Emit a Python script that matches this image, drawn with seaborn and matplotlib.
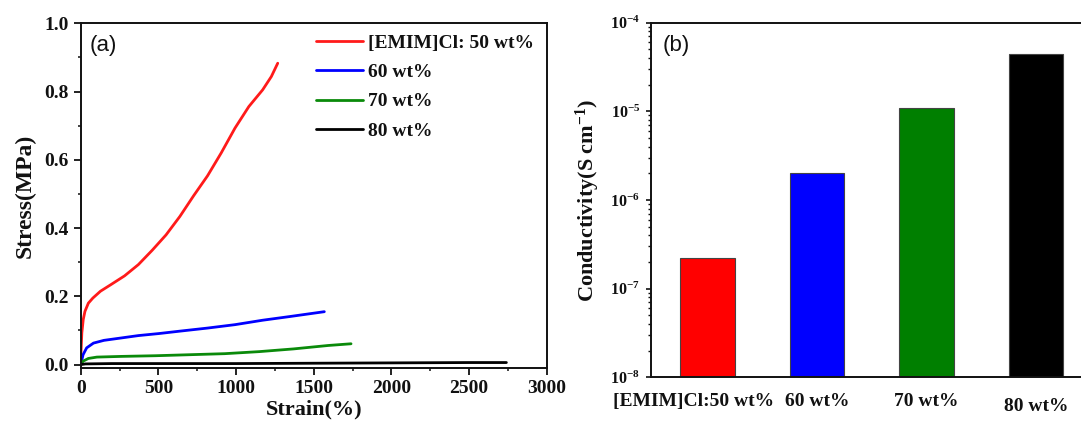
import numpy as np
import pandas as pd
import matplotlib
matplotlib.use("Agg")
import matplotlib.pyplot as plt
from matplotlib.ticker import MultipleLocator, LogLocator, NullFormatter, FixedLocator
from matplotlib.transforms import ScaledTranslation
import seaborn as sns

# ---- (a) stress-strain curves ----
strain_50 = [0, 7, 16, 27, 49, 78, 127, 193, 282, 371, 460, 549, 638, 727, 816, 904, 993, 1082, 1171, 1227, 1268]
stress_50 = [0.02, 0.093, 0.132, 0.156, 0.180, 0.195, 0.215, 0.234, 0.260, 0.293, 0.335, 0.380, 0.434, 0.495, 0.553, 0.620, 0.693, 0.756, 0.805, 0.844, 0.883]

strain_60 = [0, 15, 38, 82, 149, 260, 371, 504, 638, 816, 993, 1171, 1349, 1568]
stress_60 = [0.0, 0.029, 0.049, 0.063, 0.071, 0.078, 0.085, 0.091, 0.098, 0.107, 0.117, 0.130, 0.141, 0.155]

strain_70 = [0, 15, 49, 104, 260, 482, 704, 927, 1149, 1371, 1593, 1740]
stress_70 = [0.0, 0.010, 0.018, 0.022, 0.024, 0.026, 0.029, 0.032, 0.038, 0.046, 0.056, 0.061]

strain_80 = [0, 30, 200, 600, 1000, 1500, 2000, 2500, 2740]
stress_80 = [0.0, 0.002, 0.003, 0.003, 0.003, 0.004, 0.005, 0.006, 0.006]

curve_labels = ["[EMIM]Cl: 50 wt%", "60 wt%", "70 wt%", "80 wt%"]
curve_colors = ["#ff1a1a", "#0000ff", "#0a8a0a", "#000000"]

# ---- (b) ionic conductivity ----
bar_labels = ["[EMIM]Cl:50 wt%", "60 wt%", "70 wt%", "80 wt%"]
conductivity = [2.2e-7, 2.0e-6, 1.08e-5, 4.4e-5]
bar_colors = ["#ff0000", "#0000ff", "#007f00", "#000000"]
log_ticks = [1e-8, 1e-7, 1e-6, 1e-5, 1e-4]
log_tick_labels = ["10$^{-8}$", "10$^{-7}$", "10$^{-6}$", "10$^{-5}$", "10$^{-4}$"]

sns.set_theme(style="ticks")
plt.rcParams.update({
    "font.family": ["Liberation Serif", "DejaVu Serif"],
    "font.weight": "bold",
    "axes.labelweight": "bold",
    "mathtext.fontset": "custom",
    "mathtext.rm": "Liberation Serif:bold",
    "mathtext.it": "Liberation Serif:bold",
    "mathtext.bf": "Liberation Serif:bold",
    "mathtext.default": "rm",
    "axes.linewidth": 1.4,
    "axes.edgecolor": "#111111",
    "xtick.color": "#111111",
    "ytick.color": "#111111",
    "text.color": "#111111",
    "axes.labelcolor": "#111111",
})

fig = plt.figure(figsize=(10.81, 4.25), dpi=100)
ax_a = fig.add_axes([0.0747, 0.1341, 0.4311, 0.8111])
ax_b = fig.add_axes([0.6019, 0.1122, 0.4072, 0.8344])

# panel (a)
series = [(strain_50, stress_50), (strain_60, stress_60), (strain_70, stress_70), (strain_80, stress_80)]
for (sx, sy), lab, col in zip(series, curve_labels, curve_colors):
    sns.lineplot(x=sx, y=sy, ax=ax_a, color=col, linewidth=2.0, label=lab,
                 estimator=None, sort=False)

ax_a.set_xlim(0, 3000)
ax_a.set_ylim(-0.01, 1.0)
ax_a.xaxis.set_major_locator(MultipleLocator(500))
ax_a.xaxis.set_minor_locator(MultipleLocator(250))
ax_a.yaxis.set_major_locator(MultipleLocator(0.2))
ax_a.yaxis.set_minor_locator(MultipleLocator(0.1))
ax_a.yaxis.set_major_formatter(matplotlib.ticker.FormatStrFormatter("%.1f"))
ax_a.tick_params(which="major", direction="out", length=5, width=1.3, labelsize=14, pad=3.5)
ax_a.tick_params(which="minor", direction="out", length=2.5, width=1.1)
for lbl in ax_a.get_xticklabels() + ax_a.get_yticklabels():
    lbl.set_fontweight("bold")
ax_a.set_xlabel("Strain(%)", fontsize=16, fontweight="bold", labelpad=2)
ax_a.set_ylabel("Stress(MPa)", fontsize=17, fontweight="bold", labelpad=6)
for s in ax_a.spines.values():
    s.set_visible(True)
ax_a.text(0.048, 0.937, "(a)", transform=ax_a.transAxes, ha="center", va="center",
          fontsize=16, fontweight="normal", family=["Liberation Sans", "DejaVu Sans"])
leg = ax_a.legend(loc="upper left", bbox_to_anchor=(0.505, 0.968), frameon=False,
                  borderpad=0, borderaxespad=0, handlelength=2.4, handletextpad=0.25,
                  labelspacing=0.6, prop={"family": "Liberation Serif", "weight": "bold", "size": 14})
for line in leg.get_lines():
    line.set_linewidth(2.0)

# panel (b)
ax_b.set_yscale("log")
sns.barplot(x=bar_labels, y=conductivity, hue=bar_labels, palette=bar_colors, legend=False,
            width=0.5, edgecolor="#444444", linewidth=0.8, saturation=1.0, ax=ax_b)
ax_b.set_ylim(1e-8, 1e-4)
ax_b.set_xlim(-0.52, 3.5)
ax_b.yaxis.set_major_locator(FixedLocator(log_ticks))
ax_b.set_yticklabels(log_tick_labels)
ax_b.yaxis.set_minor_locator(LogLocator(base=10, subs=np.arange(2, 10), numticks=20))
ax_b.yaxis.set_minor_formatter(NullFormatter())
ax_b.tick_params(axis="y", which="major", direction="out", length=3.5, width=1.2, labelsize=11.5, pad=4)
ax_b.tick_params(axis="y", which="minor", direction="out", length=2.2, width=1.0)
ax_b.tick_params(axis="x", which="both", length=0, labelsize=14, pad=11)
for lbl in ax_b.get_xticklabels() + ax_b.get_yticklabels():
    lbl.set_fontweight("bold")
ax_b.set_xlabel("")
ax_b.set_ylabel("Conductivity(S cm$^{-1}$)", fontsize=16, fontweight="bold", labelpad=6)
for s in ax_b.spines.values():
    s.set_visible(True)
ax_b.text(0.0575, 0.937, "(b)", transform=ax_b.transAxes, ha="center", va="center",
          fontsize=16, fontweight="normal", family=["Liberation Sans", "DejaVu Sans"])

# nudge the category labels the way they sit under the bars
offsets = [(-14, 0), (0, 0), (0, 0), (0, -5)]
for lbl, (dx, dy) in zip(ax_b.get_xticklabels(), offsets):
    lbl.set_transform(lbl.get_transform() + ScaledTranslation(dx / 100, dy / 100, fig.dpi_scale_trans))

fig.savefig("out.png", dpi=100)
